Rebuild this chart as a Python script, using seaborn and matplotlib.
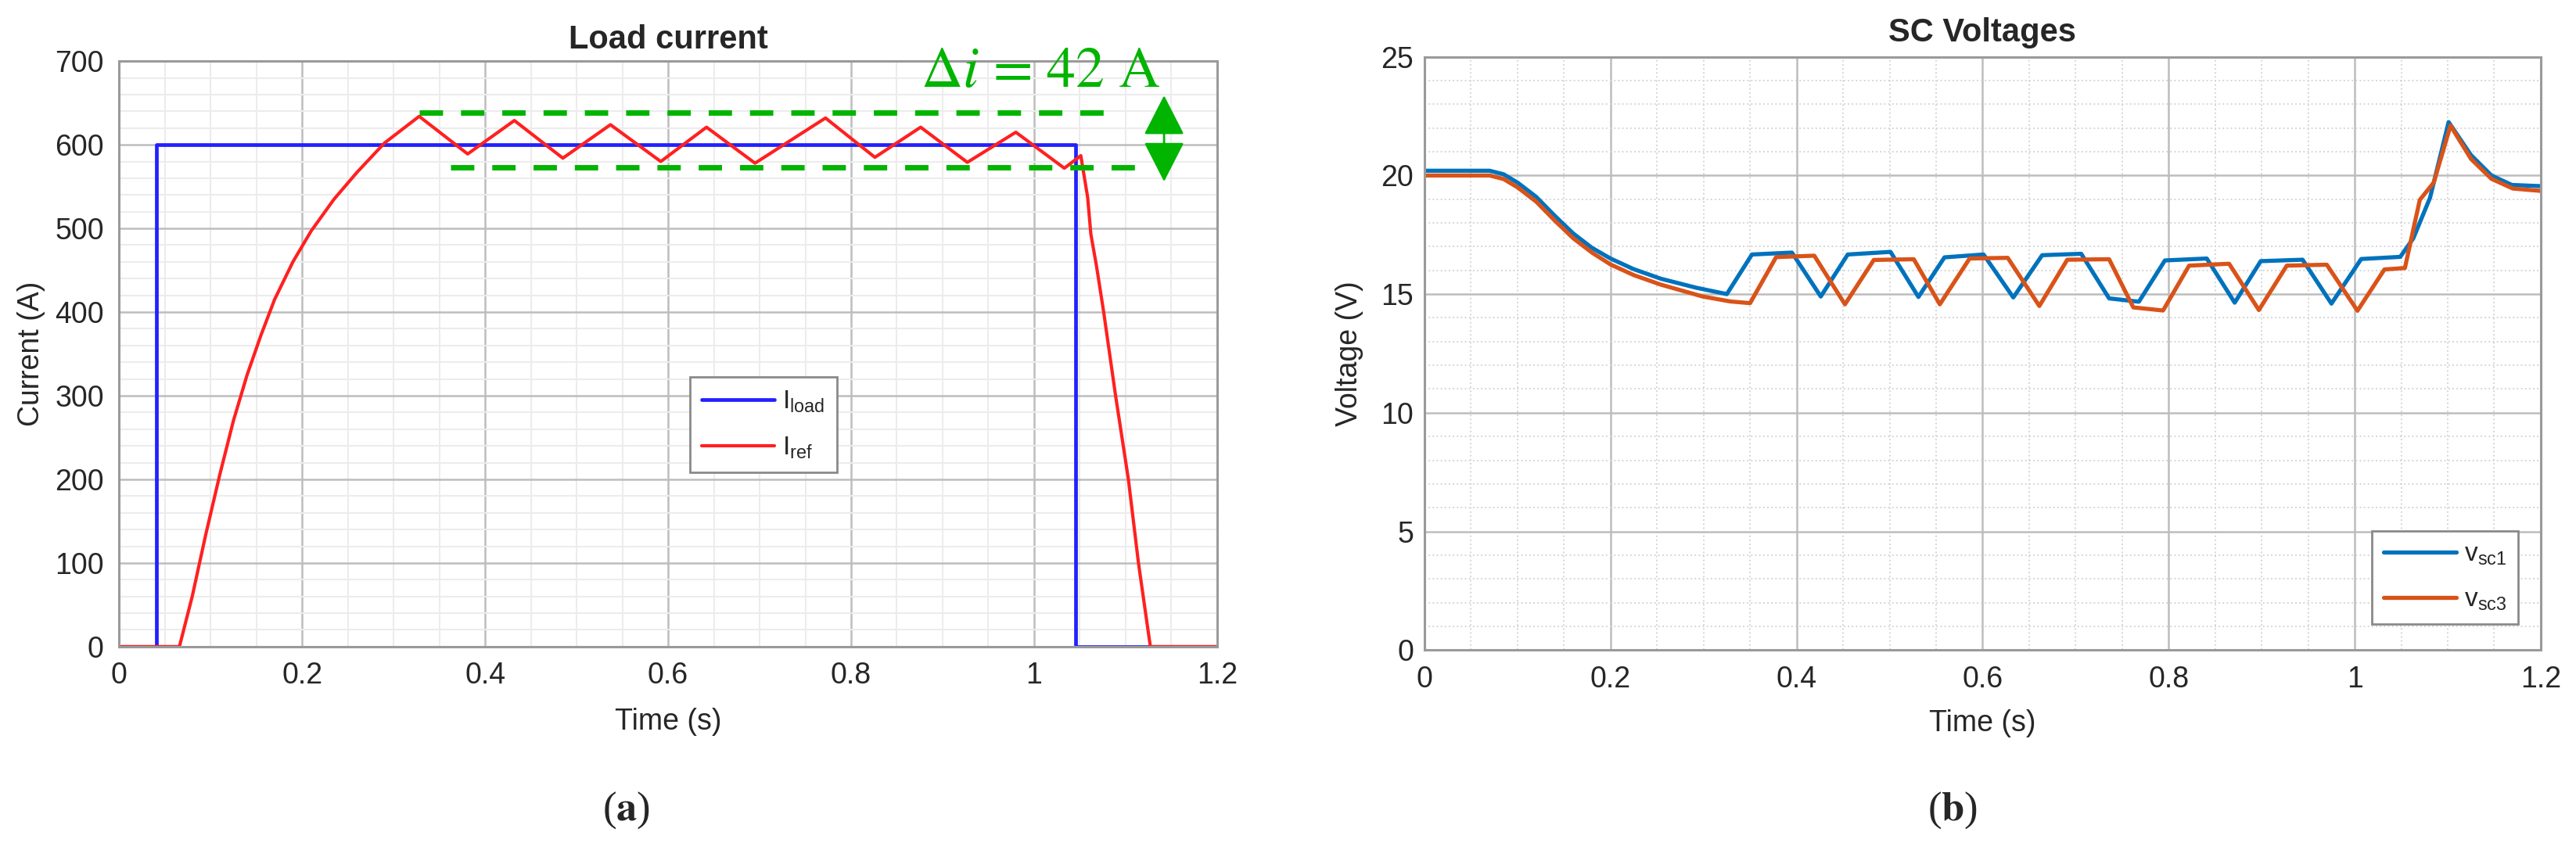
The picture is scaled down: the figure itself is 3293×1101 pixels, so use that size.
import numpy as np
import pandas as pd
import matplotlib
from matplotlib import pyplot as plt
from matplotlib.ticker import MultipleLocator
import seaborn as sns

matplotlib.use("Agg")

# Panel (a): load current
t_load = [0, 0.041, 0.041, 1.045, 1.045, 1.2]
i_load = [0, 0, 600, 600, 0, 0]

t_ref = [0, 0.066, 0.08, 0.095, 0.11, 0.125, 0.14, 0.155, 0.17, 0.19, 0.21, 0.235, 0.26, 0.29, 0.328,
         0.381, 0.432, 0.485, 0.537, 0.592, 0.642, 0.695, 0.772, 0.826, 0.876, 0.927, 0.980, 1.033,
         1.051, 1.0585, 1.062, 1.068, 1.076, 1.089, 1.103, 1.114, 1.127, 1.2]
i_ref = [0, 0, 60, 135, 205, 270, 325, 372, 415, 460, 497, 535, 567, 602, 634,
         589, 629, 584, 624, 580, 621, 578, 632, 585, 621, 579, 615, 572,
         587, 537, 493, 456, 400, 300, 200, 100, 0, 0]

# ripple band annotation
band_hi, band_lo = 638, 573
band_hi_span = [0.328, 1.085]
band_lo_span = [0.362, 1.117]

# Panel (b): SC voltages
t_v1 = [0, 0.07, 0.085, 0.1, 0.12, 0.14, 0.16, 0.18, 0.2, 0.225, 0.254, 0.292, 0.325,
        0.352, 0.395, 0.426, 0.455, 0.501, 0.531, 0.559, 0.601, 0.633, 0.664, 0.706, 0.736, 0.768,
        0.796, 0.841, 0.871, 0.899, 0.944, 0.975, 1.007, 1.049, 1.063, 1.081, 1.101, 1.125, 1.147, 1.169, 1.2]
v_sc1 = [20.2, 20.2, 20.05, 19.7, 19.1, 18.3, 17.55, 16.95, 16.5, 16.05, 15.65, 15.27, 15.0,
         16.67, 16.75, 14.9, 16.67, 16.78, 14.88, 16.55, 16.67, 14.86, 16.64, 16.7, 14.82, 14.68,
         16.42, 16.5, 14.64, 16.39, 16.45, 14.6, 16.48, 16.57, 17.35, 19.06, 22.25, 20.86, 20.0, 19.6, 19.55]

t_v3 = [0, 0.07, 0.085, 0.1, 0.12, 0.14, 0.16, 0.18, 0.2, 0.225, 0.254, 0.299, 0.329, 0.35,
        0.378, 0.419, 0.452, 0.483, 0.526, 0.554, 0.586, 0.627, 0.661, 0.691, 0.736, 0.762, 0.794,
        0.822, 0.865, 0.897, 0.927, 0.970, 1.003, 1.032, 1.054, 1.07, 1.085, 1.103, 1.125, 1.147, 1.17, 1.2]
v_sc3 = [20.0, 20.0, 19.85, 19.5, 18.9, 18.1, 17.35, 16.75, 16.25, 15.8, 15.4, 14.9, 14.69, 14.62,
         16.56, 16.62, 14.57, 16.44, 16.47, 14.57, 16.5, 16.53, 14.5, 16.45, 16.47, 14.44, 14.31,
         16.2, 16.28, 14.33, 16.2, 16.24, 14.3, 16.04, 16.1, 18.97, 19.7, 22.1, 20.7, 19.86, 19.45, 19.35]

sns.set_theme(style="white")
plt.rcParams['font.family'] = ['Liberation Sans', 'DejaVu Sans']
plt.rcParams['mathtext.fontset'] = 'stix'

GREEN = '#00b400'
TICK_FS = 27

fig = plt.figure(figsize=(32.93, 11.01), dpi=100)
ax1 = fig.add_axes([0.0462, 0.249, 0.4263, 0.680])
ax2 = fig.add_axes([0.553, 0.245, 0.4333, 0.689])


def style_axes(ax, ymaj, ymin, minor_ls, pad):
    ax.set_xlim(0, 1.2)
    ax.xaxis.set_major_locator(MultipleLocator(0.2))
    ax.xaxis.set_minor_locator(MultipleLocator(0.05))
    ax.yaxis.set_major_locator(MultipleLocator(ymaj))
    ax.yaxis.set_minor_locator(MultipleLocator(ymin))
    ax.grid(True, which='major', color='#bdbdbd', lw=1.8)
    if minor_ls == '-':
        ax.grid(True, which='minor', color='#ececec', lw=1.5, ls='-')
    else:
        ax.grid(True, which='minor', color='#d6d6d6', lw=1.4, ls=':')
    ax.set_axisbelow(True)
    ax.tick_params(which='both', direction='in', colors='#555555', labelcolor='#262626',
                   labelsize=TICK_FS, top=False, right=False)
    ax.tick_params(axis='x', pad=14)
    ax.tick_params(axis='y', pad=pad)
    ax.tick_params(which='major', length=8, width=1.2)
    ax.tick_params(which='minor', length=0)
    for sp in ax.spines.values():
        sp.set_color('#9a9a9a')
        sp.set_linewidth(2.2)
    ax.set_xticks([0, 0.2, 0.4, 0.6, 0.8, 1.0, 1.2])
    ax.set_xticklabels(['0', '0.2', '0.4', '0.6', '0.8', '1', '1.2'])


# ---- panel (a)
sns.lineplot(x=t_load, y=i_load, ax=ax1, color='#2020ff', lw=3.4, estimator=None, sort=False,
             label=r'$\mathregular{I_{load}}$')
sns.lineplot(x=t_ref, y=i_ref, ax=ax1, color='#ff2020', lw=3.0, estimator=None, sort=False,
             label=r'$\mathregular{I_{ref}}$')
ax1.set_ylim(0, 700)
style_axes(ax1, 100, 20, '-', 14)
ax1.set_title('Load current', fontsize=30, fontweight='bold', pad=12)
ax1.set_xlabel('Time (s)', fontsize=TICK_FS)
ax1.set_ylabel('Current (A)', fontsize=TICK_FS)
ax1.xaxis.set_label_coords(0.5, -0.105)
ax1.yaxis.set_label_coords(-0.067, 0.5)
leg = ax1.legend(loc='upper left', bbox_to_anchor=(0.52, 0.46), fontsize=24, frameon=True,
                 fancybox=False, framealpha=1, edgecolor='#8a8a8a', handlelength=2.8,
                 handletextpad=0.3, labelspacing=0.8, borderpad=0.45, borderaxespad=0)
leg.get_frame().set_linewidth(2)

ax1.plot(band_hi_span, [band_hi, band_hi], color=GREEN, lw=5, dashes=(4.3, 3.3), clip_on=False)
ax1.plot(band_lo_span, [band_lo, band_lo], color=GREEN, lw=5, dashes=(4.3, 3.3), clip_on=False)
ax1.annotate('', xy=(1.142, 659), xytext=(1.142, 556),
             arrowprops=dict(arrowstyle='<|-|>,head_length=0.9,head_width=0.46', mutation_scale=36,
                             color=GREEN, lw=2, shrinkA=0, shrinkB=0))
ax1.text(0.876, 669, r'$\Delta i$ = 42 A', color=GREEN, fontsize=53, family='STIXGeneral',
         ha='left', va='baseline')

# ---- panel (b)
sns.lineplot(x=t_v1, y=v_sc1, ax=ax2, color='#0072bd', lw=3.8, estimator=None, sort=False,
             label=r'$\mathregular{v_{sc1}}$')
sns.lineplot(x=t_v3, y=v_sc3, ax=ax2, color='#d95319', lw=3.8, estimator=None, sort=False,
             label=r'$\mathregular{v_{sc3}}$')
ax2.set_ylim(0, 25)
style_axes(ax2, 5, 1, ':', 10)
ax2.set_title('SC Voltages', fontsize=30, fontweight='bold', pad=14)
ax2.set_xlabel('Time (s)', fontsize=TICK_FS)
ax2.set_ylabel('Voltage (V)', fontsize=TICK_FS)
ax2.xaxis.set_label_coords(0.5, -0.100)
ax2.yaxis.set_label_coords(-0.055, 0.5)
leg2 = ax2.legend(loc='lower right', bbox_to_anchor=(0.98, 0.0435), fontsize=24, frameon=True,
                  fancybox=False, framealpha=1, edgecolor='#8a8a8a', handlelength=2.8,
                  handletextpad=0.3, labelspacing=0.8, borderpad=0.45, borderaxespad=0)
leg2.get_frame().set_linewidth(2)

# sub-figure labels
fig.text(0.243, 0.059, r'($\mathbf{a}$)', fontsize=38, family='Liberation Serif', ha='center', va='center')
fig.text(0.758, 0.059, r'($\mathbf{b}$)', fontsize=38, family='Liberation Serif', ha='center', va='center')

fig.savefig('out.png', dpi=100, facecolor='white')
